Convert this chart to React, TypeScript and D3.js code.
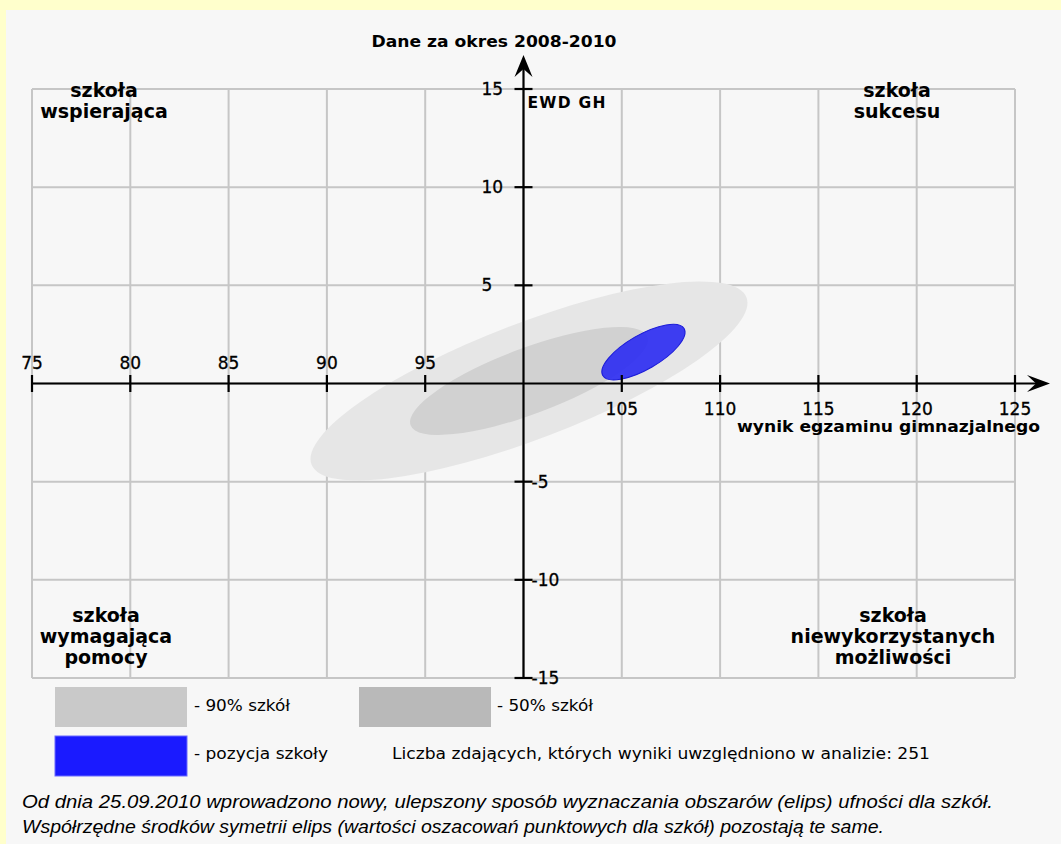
import React from 'react';
import * as d3 from 'd3';

// ---- data ----
const xTicks = [75, 80, 85, 90, 95, 100, 105, 110, 115, 120, 125];
const yTicks = [-15, -10, -5, 0, 5, 10, 15];
const ellipseNames = ['90% szkół', '50% szkół', 'pozycja szkoły'];
const ellipseCx = [100.28, 100.28, 106.1];
const ellipseCy = [0.13, 0.13, 1.6];
const ellipseSemiMajor = [11.85, 6.43, 2.39];
const ellipseSemiMinor = [2.95, 1.68, 0.88];
const ellipseAngle = [21, 20.5, 30];
const studentCount = 251;
const quadrantTL = ['szkoła', 'wspierająca'];
const quadrantTR = ['szkoła', 'sukcesu'];
const quadrantBL = ['szkoła', 'wymagająca', 'pomocy'];
const quadrantBR = ['szkoła', 'niewykorzystanych', 'możliwości'];
const footnotes = [
  'Od dnia 25.09.2010 wprowadzono nowy, ulepszony sposób wyznaczania obszarów (elips) ufności dla szkół.',
  'Współrzędne środków symetrii elips (wartości oszacowań punktowych dla szkół) pozostają te same.',
];

const W = 1061;
const H = 844;
const FONT = 'DejaVu Sans';

export default function App() {
  const x = d3.scaleLinear().domain([75, 125]).range([32, 1015]);
  const y = d3.scaleLinear().domain([-15, 15]).range([678, 89]);
  const x0 = x(100);
  const y0 = y(0);

  const ellipseFill = ['#e6e6e6', '#d1d1d1', '#2525f2'];
  const legendFill = ['#c9c9c9', '#b9b9b9', '#1a1aff'];

  return (
    <svg width={W} height={H} style={{ position: 'absolute', left: 0, top: 0 }}>
      <rect x={0} y={0} width={W} height={H} fill="#ffffcc" />
      <rect x={6} y={10} width={W - 6} height={H - 10} fill="#f7f7f7" />

      {/* grid */}
      <g stroke="#c6c6c6" strokeWidth={2}>
        {xTicks.map((t) => (
          <line key={'gx' + t} x1={x(t)} x2={x(t)} y1={y(15)} y2={y(-15)} />
        ))}
        {yTicks.map((t) => (
          <line key={'gy' + t} x1={x(75)} x2={x(125)} y1={y(t)} y2={y(t)} />
        ))}
      </g>

      {/* ellipses */}
      {ellipseNames.map((n, i) => {
        const cx = x(ellipseCx[i]);
        const cy = y(ellipseCy[i]);
        const rx = x(ellipseCx[i] + ellipseSemiMajor[i]) - cx;
        const ry = y(0) - y(ellipseSemiMinor[i]);
        return (
          <ellipse
            key={n}
            cx={cx}
            cy={cy}
            rx={rx}
            ry={ry}
            fill={ellipseFill[i]}
            fillOpacity={i === 2 ? 0.88 : 1}
            stroke={i === 2 ? '#1c1cd8' : 'none'}
            strokeWidth={i === 2 ? 1 : 0}
            transform={`rotate(${-ellipseAngle[i]} ${cx} ${cy})`}
          />
        );
      })}

      {/* axes */}
      <g stroke="#000" strokeWidth={2.2}>
        <line x1={x(75)} x2={1040} y1={y0} y2={y0} />
        <line x1={x0} x2={x0} y1={y(-15)} y2={64} />
        {xTicks.filter((t) => t !== 100).map((t) => (
          <line key={'tx' + t} x1={x(t)} x2={x(t)} y1={y0 - 8.5} y2={y0 + 8.5} />
        ))}
        {yTicks.filter((t) => t !== 0).map((t) => (
          <line key={'ty' + t} x1={x0 - 9} x2={x0 + 9} y1={y(t)} y2={y(t)} />
        ))}
      </g>
      <path d={`M1050,${y0} L1027,${y0 - 8.5} L1036,${y0} L1027,${y0 + 8.5} Z`} fill="#000" />
      <path d={`M${x0},55 L${x0 - 9},77 L${x0},69 L${x0 + 9},77 Z`} fill="#000" />

      {/* tick labels */}
      <g fontFamily={FONT} fontSize={17} fill="#000" stroke="#000" strokeWidth={0.3}>
        {xTicks.filter((t) => t < 100).map((t) => (
          <text key={'lx' + t} x={x(t)} y={y0 - 15} textAnchor="middle">{t}</text>
        ))}
        {xTicks.filter((t) => t > 100).map((t) => (
          <text key={'lx' + t} x={x(t)} y={y0 + 31} textAnchor="middle">{t}</text>
        ))}
        {yTicks.filter((t) => t > 0).map((t) => (
          <text key={'ly' + t} x={x0 - 42} y={y(t) + 6}>{t}</text>
        ))}
        {yTicks.filter((t) => t < 0).map((t) => (
          <text key={'ly' + t} x={x0 + 8} y={y(t) + 6}>{t}</text>
        ))}
      </g>

      {/* titles */}
      <g fontFamily={FONT} fontWeight="bold" fill="#000">
        <text x={494} y={47} fontSize={16.5} textAnchor="middle" textLength={245} lengthAdjust="spacingAndGlyphs">
          Dane za okres 2008-2010
        </text>
        <text x={x0 + 4} y={108} fontSize={15.5} textLength={78} lengthAdjust="spacing">EWD GH</text>
        <text x={1040} y={432} fontSize={16.5} textAnchor="end" textLength={303} lengthAdjust="spacingAndGlyphs">
          wynik egzaminu gimnazjalnego
        </text>
        {quadrantTL.map((s, i) => (
          <text key={'tl' + i} x={104} y={97 + i * 21} fontSize={19} textAnchor="middle">{s}</text>
        ))}
        {quadrantTR.map((s, i) => (
          <text key={'tr' + i} x={897} y={97 + i * 21} fontSize={19} textAnchor="middle">{s}</text>
        ))}
        {quadrantBL.map((s, i) => (
          <text key={'bl' + i} x={106} y={622 + i * 21} fontSize={19} textAnchor="middle">{s}</text>
        ))}
        {quadrantBR.map((s, i) => (
          <text key={'br' + i} x={893} y={622 + i * 21} fontSize={19} textAnchor="middle">{s}</text>
        ))}
      </g>

      {/* legend */}
      <g fontFamily={FONT} fontSize={16} fill="#000">
        <rect x={55} y={687} width={132} height={40} fill={legendFill[0]} />
        <text x={194} y={711} textLength={96} lengthAdjust="spacingAndGlyphs">- {ellipseNames[0]}</text>
        <rect x={359} y={687} width={132} height={40} fill={legendFill[1]} />
        <text x={497} y={711} textLength={96} lengthAdjust="spacingAndGlyphs">- {ellipseNames[1]}</text>
        <rect x={55} y={736} width={132} height={40} fill={legendFill[2]} stroke="#6a6aff" strokeWidth={1} />
        <text x={194} y={759} textLength={134} lengthAdjust="spacingAndGlyphs">- {ellipseNames[2]}</text>
        <text x={392} y={759} textLength={538} lengthAdjust="spacingAndGlyphs">
          Liczba zdających, których wyniki uwzględniono w analizie: {studentCount}
        </text>
      </g>

      {/* footnotes */}
      <g fontFamily="Liberation Sans, Arial, sans-serif" fontStyle="italic" fontSize={18} fill="#000">
        <text x={22} y={808} textLength={971} lengthAdjust="spacingAndGlyphs">{footnotes[0]}</text>
        <text x={22} y={833} textLength={862} lengthAdjust="spacingAndGlyphs">{footnotes[1]}</text>
      </g>
    </svg>
  );
}
